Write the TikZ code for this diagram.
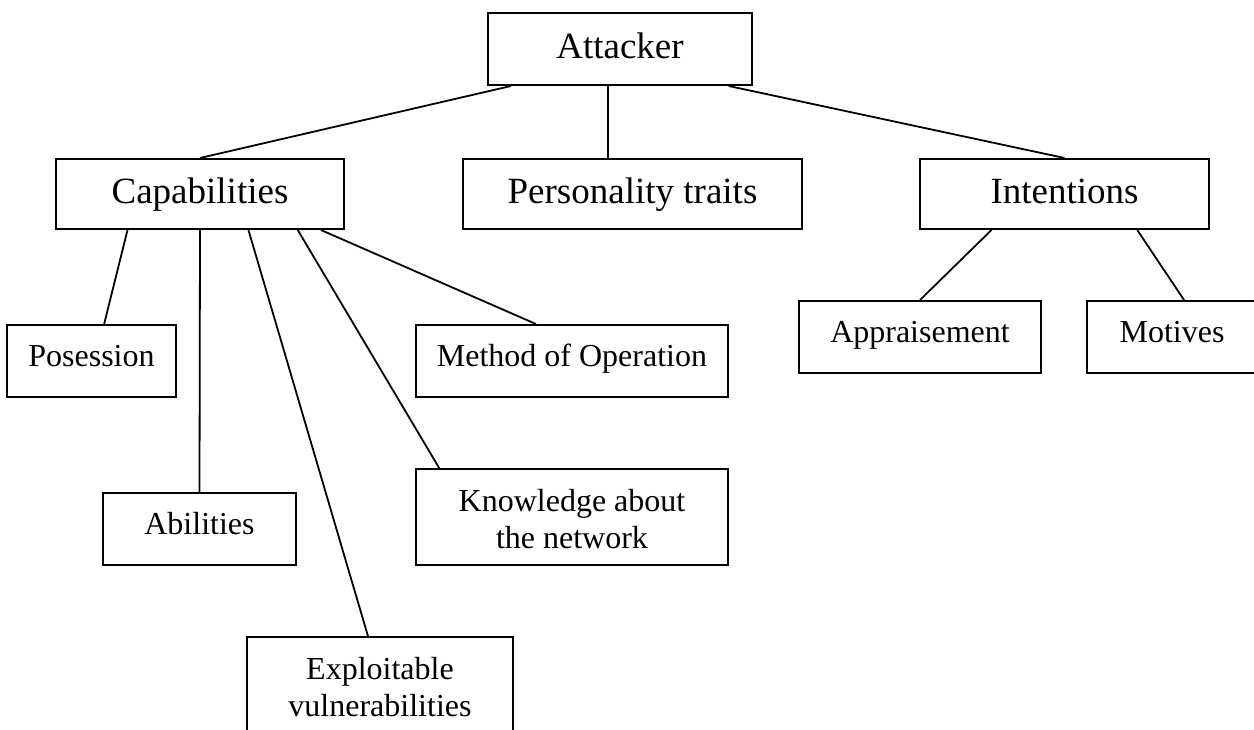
\documentclass[tikz,border=0pt]{standalone}
\usepackage{fontspec}
\setmainfont{Liberation Serif}
\usetikzlibrary{calc}

\begin{document}
\begin{tikzpicture}[x=0.5pt,y=-0.5pt,
    topbox/.style={font=\fontsize{18.5}{22}\selectfont,minimum height=35pt,text height=13.5pt,text depth=4pt},
    leafbox/.style={font=\fontsize{16}{18.5}\selectfont,minimum height=36pt,text height=11pt,text depth=6pt},
    twolines/.style={font=\fontsize{16}{18.5}\selectfont,align=center,minimum height=48pt}]
        \useasboundingbox (0,0) rectangle (1254,729);
        \begin{scope}[every node/.style={draw=black,line width=1pt,inner sep=0pt}]
        \node[topbox,minimum width=132pt,minimum height=36pt] (att) at (620,49) {Attacker};
        \node[topbox,minimum width=144pt] (cap) at (200,194) {Capabilities};
        \node[topbox,minimum width=169.5pt] (pers) at (632.5,194) {Personality traits};
        \node[topbox,minimum width=144.5pt] (intn) at (1064.5,194) {Intentions};
        \node[leafbox,minimum width=84.5pt] (pos) at (91.5,361) {Posession};
        \node[leafbox,minimum width=96.5pt] (abil) at (199.5,529) {Abilities};
        \node[twolines,minimum width=133pt] (expl) at (380,685) {\rule{0pt}{13.5pt}Exploitable\\vulnerabilities};
        \node[leafbox,minimum width=156pt] (meth) at (572,361) {Method of Operation};
        \node[twolines,minimum width=156pt] (know) at (572,517) {\rule{0pt}{13.5pt}Knowledge about\\the network};
        \node[leafbox,minimum width=121pt] (appr) at (920,337) {Appraisement};
        \node[leafbox,minimum width=85pt] (mot) at (1172,337) {Motives};
        \end{scope}
        \coordinate (attmid) at ($(att.south west)!.455!(att.south east)$);
        \begin{scope}[every edge/.style={draw=black,line width=0.9pt}]
        \path ($(att.south west)!.09!(att.south east)$) edge (cap.north);
        \path (attmid) edge (attmid |- pers.north);
        \path ($(att.south west)!.909!(att.south east)$) edge (intn.north);
        \path ($(cap.south west)!.25!(cap.south east)$) edge ($(pos.north west)!.574!(pos.north east)$);
        \path (cap.south) edge (abil.north);
        \path ($(cap.south west)!.667!(cap.south east)$) edge ($(expl.north west)!.455!(expl.north east)$);
        \path ($(cap.south west)!.837!(cap.south east)$) edge ($(know.north west)!.077!(know.north east)$);
        \path ($(cap.south west)!.917!(cap.south east)$) edge ($(meth.north west)!.385!(meth.north east)$);
        \path ($(intn.south west)!.249!(intn.south east)$) edge (appr.north);
        \path ($(intn.south west)!.75!(intn.south east)$) edge ($(mot.north west)!.57!(mot.north east)$);
        \end{scope}
\end{tikzpicture}
\end{document}
